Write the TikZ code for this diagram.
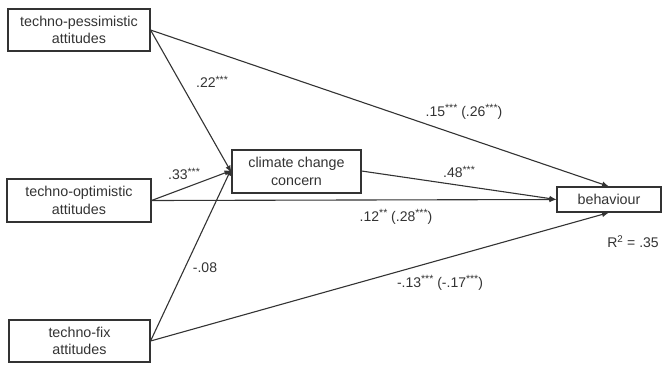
\documentclass[tikz,border=0pt]{standalone}
\usepackage{fontspec}
\setmainfont{Liberation Sans}
\usetikzlibrary{arrows.meta}
\definecolor{ink}{HTML}{333333}
\newcommand{\sig}[1]{\raisebox{0.32em}{\fontsize{10.5}{10.5}\selectfont #1}}
\begin{document}
\begin{tikzpicture}[x=1pt,y=-1pt,
  box/.style={draw=ink,line width=1.1pt,text=ink,align=center,inner sep=0pt,
    font=\fontsize{14.3}{17.5}\selectfont},
  path/.style={draw=ink,line width=1.1pt,-{Latex[length=7pt,width=5.5pt]}},
  lab/.style={text=ink,inner sep=0pt,font=\fontsize{14}{16}\selectfont}]
\useasboundingbox (0,0) rectangle (662,365);
\node[box,minimum width=142pt,minimum height=42pt] (pes) at (79,30) {techno-pessimistic\\attitudes};
\node[box,minimum width=144pt,minimum height=43pt] (opt) at (79,200.5) {techno-optimistic\\attitudes};
\node[box,minimum width=141pt,minimum height=42pt] (fix) at (79.5,341) {techno-fix\\attitudes};
\node[box,minimum width=129pt,minimum height=43pt] (cc) at (296.5,171.5) {climate change\\concern};
\node[box,minimum width=104pt,minimum height=25pt] (beh) at (609,199.5) {behaviour};
\coordinate (cc1) at ([yshift=-1pt]cc.west);
\coordinate (cc2) at ([yshift=1pt]cc.west);
\coordinate (cc3) at ([yshift=3pt]cc.west);
\draw[path] (pes.east) -- (cc1);
\draw[path] (opt.east) -- (cc2);
\draw[path] (fix.east) -- (cc3);
\draw[path] (pes.east) -- (beh.north);
\draw[path] (opt.east) -- (beh.west);
\draw[path] (fix.east) -- (beh.south);
\draw[path] ([yshift=0.5pt]cc.east) -- (beh.west);
\node[lab] (l1) at (212,82) {.22\sig{***}};
\node[lab] (l2) at (184,174) {.33\sig{***}};
\node[lab] (l3) at (205,268) {-.08};
\node[lab] (l4) at (464,112) {.15\sig{***} (.26\sig{***})};
\node[lab] (l5) at (459,172) {.48\sig{***}};
\node[lab] (l6) at (396,217) {.12\sig{**} (.28\sig{***})};
\node[lab] (l7) at (440,283) {-.13\sig{***} (-.17\sig{***})};
\node[lab] (l8) at (633,242) {R\textsuperscript{2} = .35};
\end{tikzpicture}
\end{document}
